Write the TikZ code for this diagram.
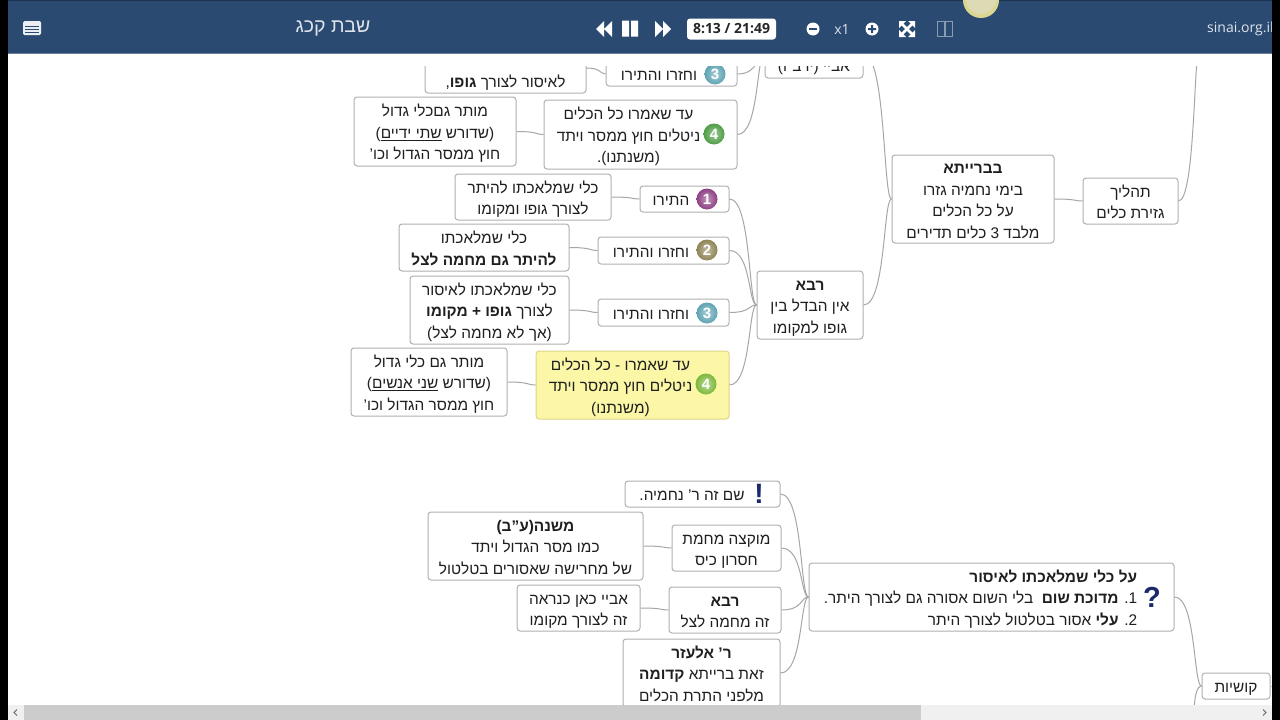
\documentclass[tikz,border=0pt]{standalone}
\usepackage{fontspec}
\setmainfont[Script=Hebrew]{Liberation Sans}
\newfontfamily\uifont{Open Sans}
\usetikzlibrary{calc}
\TeXXeTstate=1
\newcommand\hb[1]{\beginR #1\endR}
\newcommand\ltr[1]{\beginL #1\endL{}}
\newcommand\T[2][0pt]{\raisebox{-2.5pt}[\height][\depth]{\begin{tabular}{@{}c@{}}#2\end{tabular}}\hspace*{#1}}
\newcommand\TR[2][0pt]{\raisebox{-2.5pt}[\height][\depth]{\begin{tabular}{@{}r@{}}#2\end{tabular}}\hspace*{#1}}
\newcommand\bx[7][]{\node[mapbox,#1,minimum width={#5-#3},minimum height={#6-#4}] (#2) at ({(#3+#5)/2},{(#4+#6)/2}) {#7};}
\newcommand\conn[2]{\draw[link] (#1) .. controls ($(#1)!.8!(#2 |- #1)$) and ($(#1 |- #2)!.7!(#2)$) .. (#2);}
\definecolor{hdr}{HTML}{2A4A72}
\definecolor{edge}{HTML}{B0B0B0}
\definecolor{navy}{HTML}{1B2A6B}
\definecolor{yfill}{HTML}{FBF7A6}
\definecolor{yedge}{HTML}{DCD68C}
\tikzset{
  mapbox/.style={draw=edge,fill=white,rounded corners=3pt,line width=1pt,inner sep=0pt,text=black!88,
    font=\fontsize{15.4}{21.5}\selectfont},
  yellowbox/.style={draw=yedge,fill=yfill},
  link/.style={draw=black!35,line width=1pt},
  ico/.style 2 args={circle,shading=radial,inner color=#1!55!white,outer color=#2,minimum size=21pt,inner sep=0pt,text=white,font=\fontsize{15}{15}\selectfont\bfseries},
  uiw/.style={fill=white,draw=none},
  uitext/.style={inner sep=0pt,font=\uifont\fontsize{14}{14}\selectfont,text=white!85!hdr},
}
\definecolor{ipur}{HTML}{8E3F83}
\definecolor{iol}{HTML}{8F8456}
\definecolor{ite}{HTML}{5FA3B3}
\definecolor{igr}{HTML}{4F9D45}
\definecolor{iyg}{HTML}{7DB83C}
\begin{document}
\begin{tikzpicture}[x=1pt,y=-1pt]
\useasboundingbox (0,0) rectangle (1280,720);
\fill[white] (0,0) rectangle (1280,720);
% upper tree boxes
\bx{a3l}{425}{26}{586}{93}{\T{\\ \\ \hb{לאיסור לצורך \textbf{גופו},}}}
\bx{a3}{606}{62}{737}{86}{\T[25pt]{\hb{וחזרו והתירו}}}
\bx{a4}{544}{100}{737}{169}{\T[24pt]{\hb{עד שאמרו כל הכלים}\\ \hb{ניטלים חוץ ממסר ויתד}\\ \hb{(משנתנו).}}}
\bx{a4l}{354}{97}{516}{166}{\T{\hb{מותר גםכלי גדול}\\ \hb{(שדורש \underline{\hb{שתי ידיים}})}\\ \hb{חוץ ממסר הגדול וכו'}}}
\bx{abaye}{765}{30}{863}{78}{\T{\\ \hb{אביי (יו ב"ו)}}}
\bx{r1}{640}{186}{729}{212}{\T[27pt]{\hb{התירו}}}
\bx{r1l}{455}{174}{611}{220}{\T{\hb{כלי שמלאכתו להיתר}\\ \hb{לצורך גופו ומקומו}}}
\bx{r2}{598}{237}{729}{264}{\T[25pt]{\hb{וחזרו והתירו}}}
\bx{r2l}{399}{224}{569}{271}{\T{\hb{כלי שמלאכתו}\\ \hb{\textbf{להיתר גם מחמה לצל}}}}
\bx{r3}{598}{299}{729}{326}{\T[25pt]{\hb{וחזרו והתירו}}}
\bx{r3l}{410}{276}{569}{344}{\T{\hb{כלי שמלאכתו לאיסור}\\ \hb{לצורך \textbf{גופו + מקומו}}\\ \hb{(אך לא מחמה לצל)}}}
\bx[yellowbox]{r4}{536}{351}{729}{419}{\T[24pt]{\hb{עד שאמרו - כל הכלים}\\ \hb{ניטלים חוץ ממסר ויתד}\\ \hb{(משנתנו)}}}
\bx{r4l}{351}{348}{507}{416}{\T{\hb{מותר גם כלי גדול}\\ \hb{(שדורש \underline{\hb{שני אנשים}})}\\ \hb{חוץ ממסר הגדול וכו'}}}
\bx{rava}{757}{271}{863}{339}{\T{\hb{\textbf{רבא}}\\ \hb{אין הבדל בין}\\ \hb{גופו למקומו}}}
\bx{bar}{892}{155}{1054}{243}{\T{\hb{\textbf{בברייתא}}\\ \hb{בימי נחמיה גזרו}\\ \hb{על כל הכלים}\\ \hb{מלבד 3 כלים תדירים}}}
\bx{tah}{1083}{178}{1178}{224}{\T{\hb{תהליך}\\ \hb{גזירת כלים}}}
% lower tree boxes
\bx{ex}{625}{481}{780}{507}{\T[21pt]{\hb{שם זה ר' נחמיה.}}}
\bx{muk}{672}{525}{781}{571}{\T{\hb{מוקצה מחמת}\\ \hb{חסרון כיס}}}
\bx{mish}{428}{512}{643}{580}{\T{\hb{\textbf{משנה(ע"ב)}}\\ \hb{כמו מסר הגדול ויתד}\\ \hb{של מחרישה שאסורים בטלטול}}}
\bx{lrava}{669}{587}{781}{633}{\T{\hb{\textbf{רבא}}\\ \hb{זה מחמה לצל}}}
\bx{labaye}{517}{585}{640}{631}{\T{\hb{אביי כאן כנראה}\\ \hb{זה לצורך מקומו}}}
\bx{elazar}{623}{639}{780}{707}{\T{\hb{\textbf{ר' אלעזר}}\\ \hb{זאת ברייתא \textbf{קדומה}}\\ \hb{מלפני התרת הכלים}}}
\bx{main}{809}{563}{1174}{631}{\TR[22pt]{\hb{\textbf{על כלי שמלאכתו לאיסור}}\\ \hb{\ltr{1.} \textbf{מדוכת שום}\ \ בלי השום אסורה גם לצורך היתר.}\\ \hb{\ltr{2.} \textbf{עלי} אסור בטלטול לצורך היתר}}}
\bx{kush}{1202}{673}{1270}{699}{\T{\hb{קושיות}}}
% free ends
\coordinate (a3p) at (586,68);
\coordinate (tahup) at (1200,45);
\coordinate (kdown) at (1194,716);
\coordinate (kright) at (1274,686);
% connectors
\conn{a3p}{a3.west}
\conn{a4l.east}{a4.west}
\conn{a3.east}{abaye.west}
\conn{a4.east}{abaye.west}
\conn{r1l.east}{r1.west}
\conn{r2l.east}{r2.west}
\conn{r3l.east}{r3.west}
\conn{r4l.east}{r4.west}
\conn{r1.east}{rava.west}
\conn{r2.east}{rava.west}
\conn{r3.east}{rava.west}
\conn{r4.east}{rava.west}
\conn{abaye.east}{bar.west}
\conn{rava.east}{bar.west}
\conn{bar.east}{tah.west}
\conn{tah.east}{tahup}
\conn{mish.east}{muk.west}
\conn{labaye.east}{lrava.west}
\conn{ex.east}{main.west}
\conn{muk.east}{main.west}
\conn{lrava.east}{main.west}
\conn{elazar.east}{main.west}
\conn{main.east}{kush.west}
\conn{kush.east}{kright}
\draw[link] (kush.west) .. controls (1197,686) and (1194,696) .. (kdown);
% icons
\node[ico={ite}{ite}] (ia3) at (715,74) {3};
\node[ico={igr}{igr}] (ia4) at (714,134) {4};
\node[ico={ipur}{ipur}] (ir1) at (707,199) {1};
\node[ico={iol}{iol}] (ir2) at (707,250) {2};
\node[ico={ite}{ite}] (ir3) at (707,313) {3};
\node[ico={iyg}{iyg}] (ir4) at (706,384) {4};
\node[inner sep=0pt,text=navy,font=\fontsize{28}{28}\selectfont\bfseries] (iex) at (759,494) {!};
\node[inner sep=0pt,text=navy,font=\fontsize{29}{29}\selectfont\bfseries] (iq) at (1152,597) {?};
% mask under the toolbar
\fill[white] (8,53) rectangle (1272,66);
% toolbar
\fill[hdr] (0,0) rectangle (1280,53);
\fill[hdr!70!black] (0,0) rectangle (1280,1.2);
\fill[hdr!70!white] (0,52.5) rectangle (1280,53.5);
% menu icon
\fill[white!90!hdr,rounded corners=1.5pt] (23,21) rectangle (41,35);
\draw[hdr,line width=0.8pt] (25,26)--(39,26) (25,29)--(39,29) (25,32)--(39,32);
\node[inner sep=0pt,text=white!85!hdr,font=\fontsize{19.5}{20}\selectfont] (title) at (333,28) {\hb{שבת קכג}};
% player controls
\fill[uiw] (596,29)--(604,21)--(604,37)--cycle (604,29)--(612,21)--(612,37)--cycle;
\fill[uiw] (622,20.5) rectangle (629,36.5) (631,20.5) rectangle (638,36.5);
\fill[uiw] (663,29)--(655,21)--(655,37)--cycle (671,29)--(663,21)--(663,37)--cycle;
\node[fill=white,rounded corners=3pt,inner sep=0pt,minimum width=89pt,minimum height=21pt,text=black!85,font=\uifont\fontsize{14}{14}\selectfont\bfseries] (time) at (731.5,29) {8:13 / 21:49};
\fill[uiw] (813,29) circle (6.5);
\fill[hdr] (809,28) rectangle (817,30);
\node[uitext] (zoomv) at (842,30) {x1};
\fill[uiw] (872,29) circle (6.5);
\fill[hdr] (868,28) rectangle (876,30) (871,25) rectangle (873,33);
\draw[white,line width=2.6pt] (902,24)--(912,34) (912,24)--(902,34);
\fill[uiw] (899,21)--(906,21)--(899,28)--cycle (915,21)--(908,21)--(915,28)--cycle (899,37)--(906,37)--(899,30)--cycle (915,37)--(908,37)--(915,30)--cycle;
\draw[white!45!hdr,line width=1.5pt] (937.5,21.5) rectangle (952.5,36.5) (945,21.5)--(945,36.5);
\node[uitext,anchor=west] (site) at (1207,28.5) {sinai.org.il};
% recorder dot
\begin{scope}
\clip (0,0) rectangle (1280,53);
\fill[black!20!yellow!50!white!85!gray] (981,0) circle (18);
\fill[black!22!yellow!30!white!80!gray] (981,-1) circle (15);
\end{scope}
% scroll bar
\fill[black!6] (0,705) rectangle (1280,720);
\fill[black!20] (24,705) rectangle (921,720);
\draw[black!60,line width=0.9pt] (17,709.5)--(14,712.5)--(17,715.5) (1263,709.5)--(1266,712.5)--(1263,715.5);
% black side bars
\fill[black] (0,0) rectangle (8,720);
\fill[black] (1272,0) rectangle (1280,720);
\end{tikzpicture}
\end{document}
